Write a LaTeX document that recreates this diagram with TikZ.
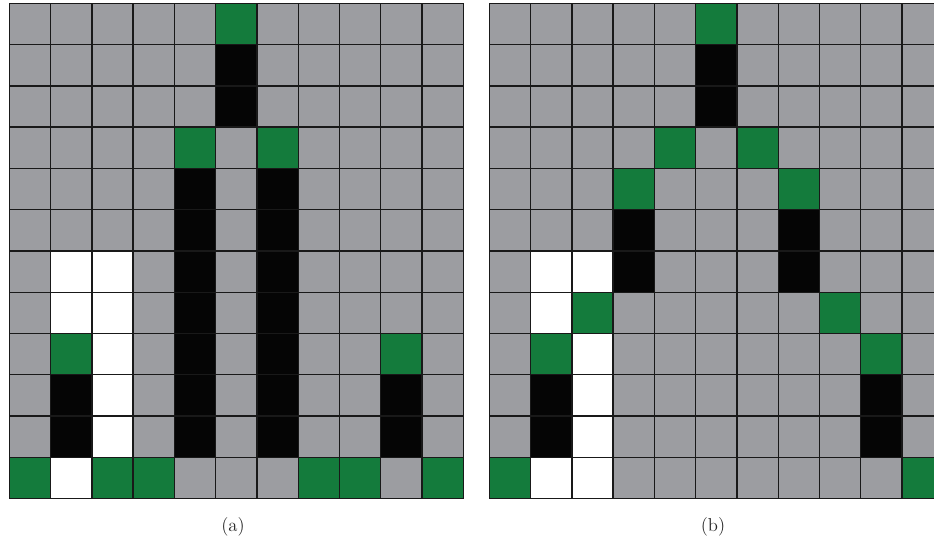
\documentclass[tikz,border=0pt]{standalone}
\definecolor{cellgray}{HTML}{9C9DA1}
\definecolor{cellgreen}{HTML}{147B3C}
\definecolor{cellblack}{HTML}{050505}
\begin{document}
\begin{tikzpicture}[x=0.75pt,y=-0.75pt]
\tikzset{gridline/.style={line width=1pt, draw=black!90},
         caption/.style={font=\fontsize{14}{16}\selectfont, text=black!85}}
\useasboundingbox (0,0) rectangle (934,544);
\clip (0,0) rectangle (934,544);
\def\cellsz{41.27}
% ---------- panel (a) ----------
\begin{scope}[shift={(9.3,3.3)}]
  \fill[cellgray] (0,0) rectangle (11*\cellsz,12*\cellsz);
  \foreach \c/\r in {5/0,4/3,6/3,1/8,9/8,0/11,2/11,3/11,7/11,8/11,10/11}
    \fill[cellgreen] (\c*\cellsz,\r*\cellsz) rectangle ++(\cellsz,\cellsz);
  \foreach \c/\r in {5/1,5/2,4/4,4/5,4/6,4/7,4/8,4/9,4/10,6/4,6/5,6/6,6/7,6/8,6/9,6/10,1/9,1/10,9/9,9/10}
    \fill[cellblack] (\c*\cellsz,\r*\cellsz) rectangle ++(\cellsz,\cellsz);
  \foreach \c/\r in {1/6,2/6,1/7,2/7,2/8,2/9,2/10,1/11}
    \fill[white] (\c*\cellsz,\r*\cellsz) rectangle ++(\cellsz,\cellsz);
  \foreach \i in {0,...,11}
    \draw[gridline] (\i*\cellsz,0) -- (\i*\cellsz,12*\cellsz);
  \foreach \j in {0,...,12}
    \draw[gridline] (0,\j*\cellsz) -- (11*\cellsz,\j*\cellsz);
\end{scope}
\node[caption] (capa) at (233,527) {(a)};
% ---------- panel (b) ----------
\begin{scope}[shift={(489.3,3.3)}]
  \fill[cellgray] (0,0) rectangle (11*\cellsz,12*\cellsz);
  \foreach \c/\r in {5/0,4/3,6/3,3/4,7/4,2/7,8/7,1/8,9/8,0/11,10/11}
    \fill[cellgreen] (\c*\cellsz,\r*\cellsz) rectangle ++(\cellsz,\cellsz);
  \foreach \c/\r in {5/1,5/2,3/5,3/6,7/5,7/6,1/9,1/10,9/9,9/10}
    \fill[cellblack] (\c*\cellsz,\r*\cellsz) rectangle ++(\cellsz,\cellsz);
  \foreach \c/\r in {1/6,2/6,1/7,2/8,2/9,2/10,1/11,2/11}
    \fill[white] (\c*\cellsz,\r*\cellsz) rectangle ++(\cellsz,\cellsz);
  \foreach \i in {0,...,11}
    \draw[gridline] (\i*\cellsz,0) -- (\i*\cellsz,12*\cellsz);
  \foreach \j in {0,...,12}
    \draw[gridline] (0,\j*\cellsz) -- (11*\cellsz,\j*\cellsz);
\end{scope}
\node[caption] (capb) at (713,527) {(b)};
\end{tikzpicture}
\end{document}
